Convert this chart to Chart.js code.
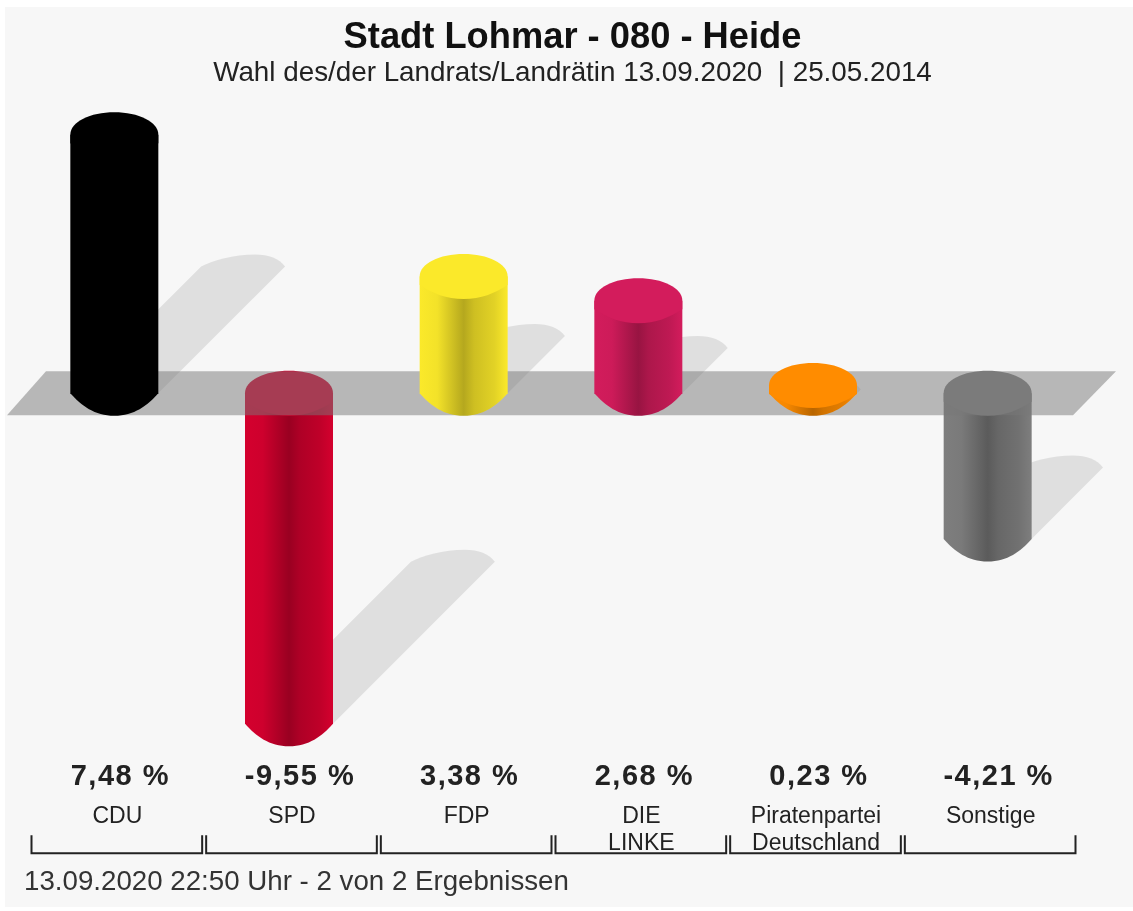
<!DOCTYPE html>
<html><head><meta charset="utf-8">
<style>html,body{margin:0;padding:0;background:#fff}#w{position:absolute;left:5px;top:7px;width:1128px;height:900px;background:#f7f7f7}canvas{position:absolute;left:0;top:0}</style>
<script src="https://cdn.jsdelivr.net/npm/chart.js@4"></script>
</head><body><div id="w"></div><canvas id="c" width="1133" height="911" style="width:1133px;height:911px"></canvas>
<script>
const titleText = 'Stadt Lohmar - 080 - Heide';
const subtitleText = 'Wahl des/der Landrats/Landrätin 13.09.2020  | 25.05.2014';
const footerText = '13.09.2020 22:50 Uhr - 2 von 2 Ergebnissen';
const categories = ['CDU','SPD','FDP',['DIE','LINKE'],['Piratenpartei','Deutschland'],'Sonstige'];
const values = [7.48,-9.55,3.38,2.68,0.23,-4.21];
const colors = ['#000000','#d4002e','#fbe92a','#d31c5c','#ff8c00','#7e7e7e'];
const FONT = '"Liberation Sans", Arial, sans-serif';

function shade(hex,f){const n=parseInt(hex.slice(1),16);return `rgb(${Math.round((n>>16&255)*f)},${Math.round((n>>8&255)*f)},${Math.round((n&255)*f)})`;}

const RY = 22.5;
function bodyPath(ctx,x,rx,yTop,yBot){
  const l=x-rx,r=x+rx;
  ctx.beginPath();ctx.moveTo(l,yTop);ctx.lineTo(l,yBot);
  ctx.bezierCurveTo(l+.25*rx,yBot+.55*RY,l+.55*rx,yBot+RY,x,yBot+RY);
  ctx.bezierCurveTo(r-.55*rx,yBot+RY,r-.25*rx,yBot+.55*RY,r,yBot);
  ctx.lineTo(r,yTop);ctx.closePath();
}
function capPath(ctx,x,rx,c){
  const l=x-rx,r=x+rx,t=c-RY,b=c+RY,cn=c+8.5,h=b-cn;
  ctx.beginPath();ctx.moveTo(l,cn);ctx.lineTo(l,c);
  ctx.bezierCurveTo(l,c-13,x-rx*.55,t,x,t);
  ctx.bezierCurveTo(x+rx*.55,t,r,c-13,r,c);
  ctx.lineTo(r,cn);
  ctx.bezierCurveTo(r-.3*rx,cn+.6*h,r-.6*rx,b,x,b);
  ctx.bezierCurveTo(l+.6*rx,b,l+.3*rx,cn+.6*h,l,cn);
  ctx.closePath();
}
function drawCylinder(ctx,el,color){
  const rx=el.width/2,x=el.x,yTop=Math.min(el.y,el.base),yBot=Math.max(el.y,el.base);
  const g=ctx.createLinearGradient(x-rx,0,x+rx,0);
  g.addColorStop(0,color);g.addColorStop(.2,shade(color,.97));g.addColorStop(.5,shade(color,.72));
  g.addColorStop(.62,shade(color,.82));g.addColorStop(.85,shade(color,.9));g.addColorStop(1,color);
  ctx.fillStyle=g;bodyPath(ctx,x,rx,yTop,yBot);ctx.fill();
  ctx.fillStyle=color;capPath(ctx,x,rx,yTop);ctx.fill();
}
function drawShadow(ctx,el){
  const rx=el.width/2,h=Math.abs(el.base-el.y),d=h*.49,y0=el.y<el.base?el.base:el.y;
  const r=el.x+rx,l=el.x-rx,tx=r+d,ty=y0-d;
  ctx.fillStyle='rgba(0,0,0,.095)';
  ctx.beginPath();ctx.moveTo(r,y0);ctx.lineTo(tx,ty);
  ctx.bezierCurveTo(tx-6,ty-8,tx-16,ty-12,tx-30,ty-12);
  ctx.bezierCurveTo(tx-52,ty-12,tx-72,ty-6,tx-84,ty);
  ctx.lineTo(l+4,y0);ctx.closePath();ctx.fill();
}
const cylinders={id:'cylinders',
  beforeDatasetDraw(chart,args){
    const ctx=chart.ctx,meta=args.meta,yS=chart.scales.y,a=chart.chartArea,z=yS.getPixelForValue(0);
    const ds=chart.data.datasets[0];
    ctx.save();
    meta.data.forEach(el=>drawShadow(ctx,el));
    meta.data.forEach((el,i)=>{if(values[i]<0)drawCylinder(ctx,el,ds.backgroundColor[i]);});
    ctx.fillStyle='rgba(120,120,120,.5)';
    ctx.beginPath();ctx.moveTo(a.left-20,z+22);ctx.lineTo(a.left+19,z-22);ctx.lineTo(a.right+41,z-22);ctx.lineTo(a.right-2,z+22);ctx.closePath();ctx.fill();
    meta.data.forEach((el,i)=>{if(values[i]>=0)drawCylinder(ctx,el,ds.backgroundColor[i]);});
    ctx.restore();
    return false;
  },
  afterDraw(chart){
    const ctx=chart.ctx,xS=chart.scales.x,a=chart.chartArea,meta=chart.getDatasetMeta(0);
    ctx.save();
    const step=xS.getPixelForValue(1)-xS.getPixelForValue(0);
    ctx.fillStyle='#222';ctx.textAlign='center';ctx.textBaseline='middle';
    ctx.font='bold 29px '+FONT;ctx.letterSpacing='1.5px';
    meta.data.forEach((el,i)=>{
      const s=values[i].toFixed(2).replace('.',',')+' %';
      ctx.fillText(s,el.x+(values[i]<0?11:6),a.bottom-20.7);
    });
    ctx.letterSpacing='0px';
    ctx.strokeStyle='#222';ctx.lineWidth=2;
    meta.data.forEach(el=>{
      const l=el.x-step/2+4.5,r=el.x+step/2+0.5,t=a.bottom+37.3,b=a.bottom+55.3;
      ctx.beginPath();ctx.moveTo(l,t);ctx.lineTo(l,b);ctx.lineTo(r,b);ctx.lineTo(r,t);ctx.stroke();
    });
    ctx.fillStyle='#333';ctx.textAlign='left';ctx.font='27.7px '+FONT;
    ctx.fillText(footerText,24,882);
    ctx.restore();
  }
};
new Chart(document.getElementById('c'),{
  type:'bar',
  data:{labels:categories,datasets:[{data:values,backgroundColor:colors,barThickness:88}]},
  plugins:[cylinders],
  options:{
    responsive:false,animation:false,
    layout:{autoPadding:false,padding:{left:12,right:0,top:0,bottom:49}},
    plugins:{
      legend:{display:false},tooltip:{enabled:false},
      title:{display:true,text:titleText,color:'#111',font:{family:FONT,size:36.3,weight:'bold',lineHeight:1.1},padding:{top:18,bottom:0}},
      subtitle:{display:true,text:subtitleText,color:'#222',font:{family:FONT,size:27.8,weight:'normal',lineHeight:1},padding:{top:2,bottom:0}}
    },
    scales:{
      x:{grid:{display:false,drawTicks:false},border:{display:false},
         ticks:{color:'#222',font:{family:FONT,size:23,lineHeight:27/23},padding:5,autoSkip:false,maxRotation:0,labelOffset:3}},
      y:{min:-11.7,max:8.836,position:'left',grid:{display:false},border:{display:false},ticks:{display:false},afterFit(s){s.width=15;}},
      yPad:{min:0,max:1,position:'right',grid:{display:false},border:{display:false},ticks:{display:false},afterFit(s){s.width=58;}}
    }
  }
});
</script></body></html>
